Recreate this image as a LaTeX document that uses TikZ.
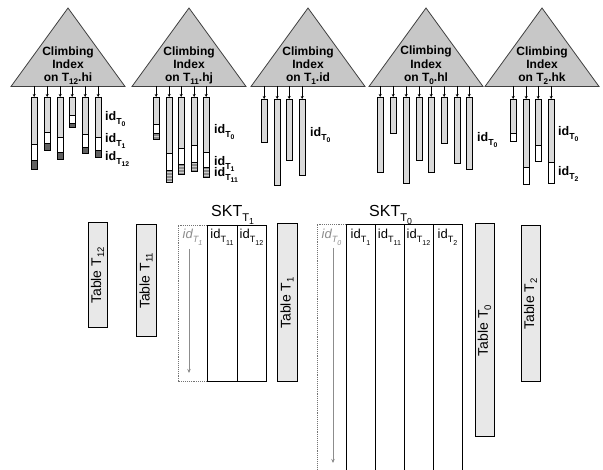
\documentclass[tikz,border=0pt]{standalone}
\usepackage{fontspec}
\usepackage{graphicx}
\setmainfont{Liberation Sans}
\usetikzlibrary{arrows.meta,patterns}
\newcommand\cbar[7]{% name, x left, top, gray end, white end, bottom, bottom style
  \fill[barfill] (#2,#3) rectangle ({#2+6.3},#4);
  \fill[white] (#2,#4) rectangle ({#2+6.3},#5);
  \fill[#7] (#2,#5) rectangle ({#2+6.3},#6);
  \draw[barline] (#2,#4) -- ({#2+6.3},#4) (#2,#5) -- ({#2+6.3},#5);
  \draw[barline] (#2,#3) rectangle ({#2+6.3},#6);
  \coordinate (#1) at ({#2+3.15},#3);
  \coordinate (#1s) at ({#2+3.15},86.5);
  \draw[feed] (#1s) -- (#1);
}
\newcommand\climb[3]{% name, apex x, attribute
  \draw[tri] (#2,8) coordinate (#1apex) -- ({#2+57},86.5) -- ({#2-57},86.5) -- cycle;
  \node[trilab] (#1) at (#2,65.3) {Climbing\\Index\\on #3};
}
\newcommand\ssub[1]{\raisebox{-0.22em}{\scalebox{0.68}{#1}}}
\newcommand\dsub[2]{#1\raisebox{-0.26em}{\scalebox{0.7}{T\raisebox{-0.3em}{\scalebox{0.78}{#2}}}}}
\begin{document}
\begin{tikzpicture}[x=1pt,y=-1pt,
  tri/.style={draw=black!75, fill=black!22, line width=0.8pt, line join=miter},
  trilab/.style={font=\fontsize{12}{13.3}\selectfont\bfseries, align=center, inner sep=0},
  barfill/.style={fill=black!15},
  barline/.style={draw=black, line width=0.7pt},
  darkseg/.style={fill=black!62},
  stripeseg/.style={fill=black!45, postaction={pattern=horizontal lines, pattern color=white!80!black}},
  plainseg/.style={fill=black!15},
  feed/.style={draw=black, line width=0.6pt, -{Stealth[length=3pt,width=3pt]}},
  idlab/.style={font=\fontsize{12.5}{14}\selectfont\bfseries, inner sep=0, anchor=base west},
  tbl/.style={draw=black, line width=1pt, fill=black!9, rotate=90, inner sep=0,
     font=\fontsize{14}{16}\selectfont},
  skt/.style={draw=black, line width=0.9pt},
  dotcol/.style={draw=black!55, line width=0.9pt, densely dotted},
  hdr/.style={font=\fontsize{13}{15}\selectfont, inner sep=0, anchor=base},
  ghdr/.style={hdr, text=black!45, font=\fontsize{13}{15}\selectfont\itshape},
  title/.style={font=\fontsize{16}{18}\selectfont, inner sep=0, anchor=base west},
  scan/.style={draw=black!45, line width=0.9pt, -{Stealth[length=4pt,width=3.5pt]}}
]
\useasboundingbox (0,0) rectangle (603,470);

% ---------- climbing indexes ----------
\climb{c1}{68}{T\ssub{12}.hi}
\climb{c2}{189}{T\ssub{11}.hj}
\climb{c3}{308}{T\ssub{1}.id}
\climb{c4}{426}{T\ssub{0}.hl}
\climb{c5}{542}{T\ssub{2}.hk}

% bars of index 1
\cbar{a1}{31}{97}{144}{160}{169}{darkseg}
\cbar{a2}{44}{97}{132}{143}{150}{darkseg}
\cbar{a3}{57}{97}{137}{152}{159}{darkseg}
\cbar{a4}{69}{97}{115}{123}{127}{darkseg}
\cbar{a5}{82}{97}{134}{147}{153}{darkseg}
\cbar{a6}{95}{97}{137}{150}{157}{darkseg}
\node[idlab] (l1a) at (105,121) {\dsub{id}{0}};
\node[idlab] (l1b) at (105,143) {\dsub{id}{1}};
\node[idlab] (l1c) at (105,161) {\dsub{id}{12}};

% bars of index 2
\cbar{b1}{153}{97}{124}{133}{139}{stripeseg}
\cbar{b2}{166}{97}{153}{170}{182}{stripeseg}
\cbar{b3}{178}{97}{148}{164}{174}{stripeseg}
\cbar{b4}{191}{97}{145}{162}{171}{stripeseg}
\cbar{b5}{203}{97}{152}{167}{177}{stripeseg}
\node[idlab] (l2a) at (214,134) {\dsub{id}{0}};
\node[idlab] (l2b) at (214,166) {\dsub{id}{1}};
\node[idlab] (l2c) at (214,177) {\dsub{id}{11}};

% bars of index 3
\cbar{d1}{261}{99}{142}{142}{142}{plainseg}
\cbar{d2}{274}{99}{185}{185}{185}{plainseg}
\cbar{d3}{286}{99}{160}{160}{160}{plainseg}
\cbar{d4}{299}{99}{175}{175}{175}{plainseg}
\node[idlab] (l3a) at (310,137) {\dsub{id}{0}};

% bars of index 4
\cbar{e1}{377}{97}{172}{172}{172}{plainseg}
\cbar{e2}{390}{97}{133}{133}{133}{plainseg}
\cbar{e3}{403}{97}{183}{183}{183}{plainseg}
\cbar{e4}{416}{97}{160}{160}{160}{plainseg}
\cbar{e5}{428}{97}{172}{172}{172}{plainseg}
\cbar{e6}{441}{97}{143}{143}{143}{plainseg}
\cbar{e7}{454}{97}{163}{163}{163}{plainseg}
\cbar{e8}{466}{97}{169}{169}{169}{plainseg}
\node[idlab] (l4a) at (477,142) {\dsub{id}{0}};

% bars of index 5
\cbar{f1}{510}{99}{133}{141}{141}{plainseg}
\cbar{f2}{523}{99}{167}{184}{184}{plainseg}
\cbar{f3}{535}{99}{145}{161}{161}{plainseg}
\cbar{f4}{548}{99}{162}{183}{183}{plainseg}
\node[idlab] (l5a) at (558,136) {\dsub{id}{0}};
\node[idlab] (l5b) at (558,176) {\dsub{id}{2}};

% ---------- base tables ----------
\node[tbl, minimum width=105pt, minimum height=19pt] (t12) at (97.5,275.5) {Table T\ssub{12}};
\node[tbl, minimum width=112pt, minimum height=20pt] (t11) at (146,281) {Table T\ssub{11}};
\node[tbl, minimum width=158pt, minimum height=20pt] (t1) at (287,303) {Table T\ssub{1}};
\node[tbl, minimum width=213pt, minimum height=19pt] (t0) at (484.5,330.5) {Table T\ssub{0}};
\node[tbl, minimum width=156pt, minimum height=19pt] (t2) at (530.5,304) {Table T\ssub{2}};

% ---------- SKT of T1 ----------
\node[title] (s1) at (211,217) {\dsub{SKT}{1}};
\draw[dotcol] (207,225) -- (178,225) -- (178,381) -- (207,381);
\draw[skt] (207,225) rectangle (266,381);
\draw[skt] (237,225) -- (237,381);
\node[ghdr] (h10) at (192.5,239) {\dsub{id}{1}};
\node[hdr] (h11) at (222,239) {\dsub{id}{11}};
\node[hdr] (h12) at (251.5,239) {\dsub{id}{12}};
\coordinate (s1a) at (189,249);
\coordinate (s1b) at (189,373);
\draw[scan] (s1a) -- (s1b);

% ---------- SKT of T0 ----------
\node[title] (s0) at (369,217) {\dsub{SKT}{0}};
\draw[dotcol] (346,224) -- (317,224) -- (317,470);
\draw[skt] (346,470) -- (346,224) -- (462,224) -- (462,470);
\draw[skt] (375,224) -- (375,470) (404,224) -- (404,470) (433,224) -- (433,470);
\node[ghdr] (h00) at (331.5,239) {\dsub{id}{0}};
\node[hdr] (h01) at (360.5,239) {\dsub{id}{1}};
\node[hdr] (h02) at (389.5,239) {\dsub{id}{11}};
\node[hdr] (h03) at (418.5,239) {\dsub{id}{12}};
\node[hdr] (h04) at (447.5,239) {\dsub{id}{2}};
\coordinate (s0a) at (333,248);
\coordinate (s0b) at (333,463);
\draw[scan] (s0a) -- (s0b);
\end{tikzpicture}
\end{document}
